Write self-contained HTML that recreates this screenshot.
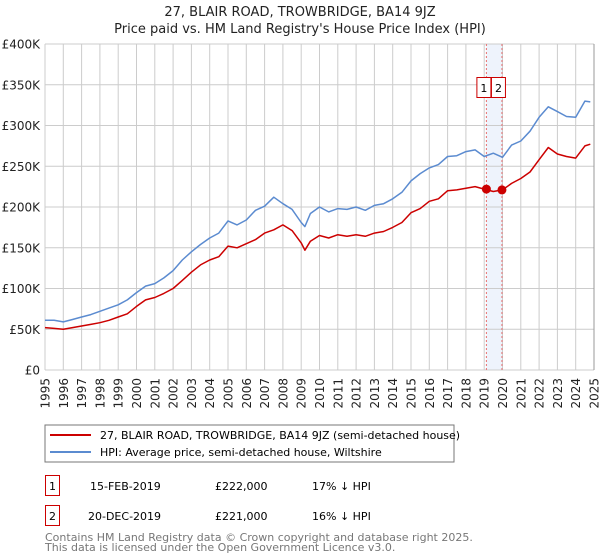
<!DOCTYPE html>
<html><head><meta charset="utf-8"><style>
body{margin:0;background:#fff;font-family:"Liberation Sans","DejaVu Sans",sans-serif;}
svg{display:block}
</style></head><body>
<svg id="c" width="600" height="560" viewBox="0 0 600 560" xmlns="http://www.w3.org/2000/svg" font-family="DejaVu Sans, Liberation Sans, sans-serif">
<text x="300" y="16" text-anchor="middle" font-size="13" fill="#222">27, BLAIR ROAD, TROWBRIDGE, BA14 9JZ</text>
<text x="300" y="33" text-anchor="middle" font-size="13" fill="#222">Price paid vs. HM Land Registry's House Price Index (HPI)</text>
<g id="grid"></g>
<g id="yaxis"></g>
<g id="xaxis"></g>
<g id="series"></g>
<g>
<rect x="45" y="425" width="409" height="37" fill="#fff" stroke="#777"/>
<line x1="50" y1="435" x2="91" y2="435" stroke="#cc0000" stroke-width="2"/>
<text x="100" y="439" font-size="11" fill="#000">27, BLAIR ROAD, TROWBRIDGE, BA14 9JZ (semi-detached house)</text>
<line x1="50" y1="452" x2="91" y2="452" stroke="#5b8bd0" stroke-width="2"/>
<text x="100" y="456" font-size="11" fill="#000">HPI: Average price, semi-detached house, Wiltshire</text>
</g>
<g>
<rect x="45.5" y="475.5" width="14" height="20" fill="#fff" stroke="#cc0000"/>
<text x="52.5" y="490" text-anchor="middle" font-size="11">1</text>
<text x="90" y="490" font-size="11">15-FEB-2019</text>
<text x="215" y="490" font-size="11">£222,000</text>
<text x="312" y="490" font-size="11">17% ↓ HPI</text>
<rect x="45.5" y="505.5" width="14" height="20" fill="#fff" stroke="#cc0000"/>
<text x="52.5" y="520" text-anchor="middle" font-size="11">2</text>
<text x="88" y="520" font-size="11">20-DEC-2019</text>
<text x="215" y="520" font-size="11">£221,000</text>
<text x="312" y="520" font-size="11">16% ↓ HPI</text>
</g>
<text x="45" y="541" font-size="11" fill="#777">Contains HM Land Registry data © Crown copyright and database right 2025.</text>
<text x="45" y="551" font-size="11" fill="#777">This data is licensed under the Open Government Licence v3.0.</text>
</svg>
<script>
const years=[1995,1996,1997,1998,1999,2000,2001,2002,2003,2004,2005,2006,2007,2008,2009,2010,2011,2012,2013,2014,2015,2016,2017,2018,2019,2020,2021,2022,2023,2024,2025];
const yTicks=[0,50,100,150,200,250,300,350,400];
const yTickLabels=["£0","£50K","£100K","£150K","£200K","£250K","£300K","£350K","£400K"];
const seriesDates=[1995,1995.5,1996,1996.5,1997,1997.5,1998,1998.5,1999,1999.5,2000,2000.5,2001,2001.5,2002,2002.5,2003,2003.5,2004,2004.5,2005,2005.5,2006,2006.5,2007,2007.5,2008,2008.5,2009,2009.2,2009.5,2010,2010.5,2011,2011.5,2012,2012.5,2013,2013.5,2014,2014.5,2015,2015.5,2016,2016.5,2017,2017.5,2018,2018.5,2019,2019.5,2020,2020.5,2021,2021.5,2022,2022.5,2023,2023.5,2024,2024.5,2024.8];
const hpiValues=[61,61,59,62,65,68,72,76,80,86,95,103,106,113,122,135,145,154,162,168,183,178,184,196,201,212,204,197,181,176,192,200,194,198,197,200,196,202,204,210,218,232,241,248,252,262,263,268,270,262,266,261,276,281,293,310,323,317,311,310,330,329];
const priceValues=[52,51,50,52,54,56,58,61,65,69,78,86,89,94,100,110,120,129,135,139,152,150,155,160,168,172,178,171,156,147,158,165,162,166,164,166,164,168,170,175,181,193,198,207,210,220,221,223,225,222,219,221,229,235,243,258,273,265,262,260,275,277];
const saleDates=[2019.12,2019.97];
const salePrices=[222,221];
const saleLabels=["1","2"];
const NS="http://www.w3.org/2000/svg";
const X0=45,X1=594,Y0=370,Y1=44;
const xs=t=>X0+(t-1995)/30*(X1-X0);
const ys=v=>Y0-v/400*(Y0-Y1);
function mk(tag,attrs,parent){const e=document.createElementNS(NS,tag);for(const k in attrs)e.setAttribute(k,attrs[k]);parent.appendChild(e);return e;}
const grid=document.getElementById('grid'),ya=document.getElementById('yaxis'),xa=document.getElementById('xaxis'),ser=document.getElementById('series');
// shaded band
const band=mk('rect',{x:xs(saleDates[0]),y:Y1,width:xs(saleDates[1])-xs(saleDates[0]),height:Y0-Y1,fill:'#eef3fc'},grid);


yTicks.forEach((v,i)=>{
 const l=mk('line',{x1:X0,x2:X1,y1:ys(v),y2:ys(v),stroke:'#cccccc','stroke-width':1},grid);
 
 
 const t=mk('text',{x:40,y:ys(v)+4.5,'text-anchor':'end','font-size':12,fill:'#222'},ya);
 t.textContent=yTickLabels[i];
 
 
});
years.forEach(yr=>{
 const l=mk('line',{x1:xs(yr),x2:xs(yr),y1:Y1,y2:Y0,stroke:'#cccccc','stroke-width':1},grid);
 
 
 const t=mk('text',{x:0,y:0,'text-anchor':'end','font-size':12,fill:'#222',transform:`translate(${xs(yr)+4.5},378) rotate(-90)`},xa);
 t.textContent=String(yr);
 
 
});
const edge=mk('line',{x1:X1,x2:X1,y1:Y1,y2:Y0,stroke:'#999','stroke-width':1},grid);


saleDates.forEach(d=>{
 const l=mk('line',{x1:xs(d),x2:xs(d),y1:Y1,y2:Y0,stroke:'#e87070','stroke-width':1,'stroke-dasharray':'2,2'},grid);
 
 
});
function pts(vals){return seriesDates.map((d,i)=>xs(d).toFixed(1)+','+ys(vals[i]).toFixed(1)).join(' ');}
const hp=mk('polyline',{points:pts(hpiValues),fill:'none',stroke:'#5b8bd0','stroke-width':1.5,'stroke-linejoin':'round'},ser);


const pp=mk('polyline',{points:pts(priceValues),fill:'none',stroke:'#cc0000','stroke-width':1.5,'stroke-linejoin':'round'},ser);


saleDates.forEach((d,i)=>{
 const c=mk('circle',{cx:xs(d),cy:ys(salePrices[i]),r:4.5,fill:'#cc0000'},ser);
 
 
 const bx=i===0?xs(d)-9.5:xs(d)-10.5;
 const r=mk('rect',{x:bx,y:77.5,width:14,height:20,fill:'#fff',stroke:'#cc0000'},ser);
 
 
 const t=mk('text',{x:bx+7,y:92,'text-anchor':'middle','font-size':11,fill:'#000'},ser);
 t.textContent=saleLabels[i];
 
 
});
</script>
</body></html>
